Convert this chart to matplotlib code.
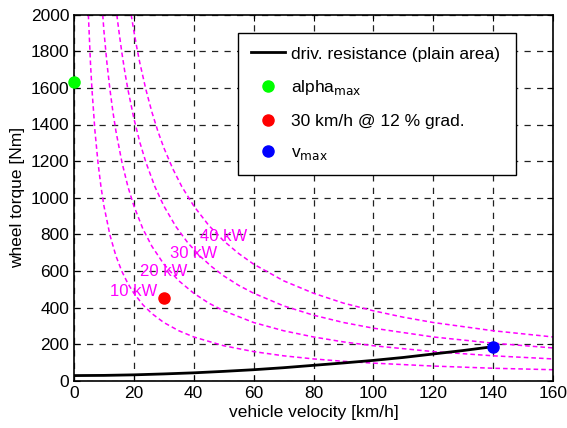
import numpy as np
import matplotlib
matplotlib.use('Agg')
import matplotlib.pyplot as plt

# power hyperbolas (velocity km/h, wheel torque Nm)
v_10kw = [4.8, 5.5, 6, 7, 8, 9, 10, 12, 14, 16, 18, 20, 23, 26, 30, 35, 40, 50, 60, 70, 80, 90, 100, 120, 140, 160]
t_10kw = [2000, 1736, 1592, 1364, 1194, 1061, 955, 796, 682, 597, 531, 478, 415, 367, 318, 273, 239, 191, 159, 136, 119, 106, 96, 80, 68, 60]

v_20kw = [9.6, 10, 11, 12, 13, 14, 16, 18, 20, 23, 26, 30, 35, 40, 45, 50, 60, 70, 80, 90, 100, 120, 140, 160]
t_20kw = [2000, 1910, 1736, 1592, 1469, 1364, 1194, 1061, 955, 830, 735, 637, 546, 478, 424, 382, 318, 273, 239, 212, 191, 159, 136, 119]

v_30kw = [14.3, 15, 16, 17, 18, 20, 22, 24, 27, 30, 34, 38, 42, 46, 50, 55, 60, 70, 80, 90, 100, 120, 140, 160]
t_30kw = [2000, 1910, 1791, 1685, 1592, 1433, 1302, 1194, 1061, 955, 843, 754, 682, 623, 573, 521, 478, 409, 358, 318, 287, 239, 205, 179]

v_40kw = [19.1, 20, 21, 22, 24, 26, 28, 30, 33, 36, 40, 45, 50, 55, 60, 70, 80, 90, 100, 110, 120, 140, 160]
t_40kw = [2000, 1910, 1819, 1736, 1592, 1469, 1364, 1273, 1158, 1061, 955, 849, 764, 695, 637, 546, 478, 424, 382, 347, 318, 273, 239]

# driving resistance on plain road
v_res = [0, 10, 20, 30, 40, 50, 60, 70, 80, 90, 100, 110, 120, 130, 140]
t_res = [28, 29, 32, 37, 43, 51, 60, 71, 84, 97, 111, 127, 146, 165, 186]

# labels for the power curves
kw_labels = ['10 kW', '20 kW', '30 kW', '40 kW']
kw_label_v = [12, 22, 32, 42]
kw_label_t = [490, 595, 695, 790]

# operating points
alpha_max = (0, 1630)
grad_point = (30, 453)
vmax_point = (140, 186)

magenta = '#ff00ff'
fs = 12.5

fig = plt.figure(figsize=(5.67, 4.28), dpi=100)
ax = fig.add_axes([74 / 567, 1 - 380.7 / 428, (553 - 74) / 567, (380.7 - 14.7) / 428])

for v, t in [(v_10kw, t_10kw), (v_20kw, t_20kw), (v_30kw, t_30kw), (v_40kw, t_40kw)]:
    ax.plot(v, t, color=magenta, lw=1.1, dashes=(3, 2))

ax.plot(v_res, t_res, color='black', lw=2, label='driv. resistance (plain area)', zorder=3)
ax.plot(*alpha_max, 'o', color='#00ff00', ms=8, label='alpha$_{\\mathrm{max}}$', clip_on=False, zorder=4)
ax.plot(*grad_point, 'o', color='#ff0000', ms=8, label='30 km/h @ 12 % grad.', zorder=4)
ax.plot(*vmax_point, 'o', color='#0000ff', ms=8, label='v$_{\\mathrm{max}}$', zorder=4)

for lab, x, y in zip(kw_labels, kw_label_v, kw_label_t):
    ax.text(x, y, lab, color=magenta, fontsize=12, ha='left', va='center',
            family='Liberation Sans')

ax.set_xlim(0, 160)
ax.set_ylim(0, 2000)
ax.set_xticks(np.arange(0, 161, 20))
ax.set_yticks(np.arange(0, 2001, 200))
ax.grid(True, color='#222222', linestyle=(0, (5, 5)), lw=0.9)
ax.set_axisbelow(True)
ax.tick_params(direction='in', top=True, right=True, length=4, labelsize=fs)
for lbl in ax.get_xticklabels() + ax.get_yticklabels():
    lbl.set_family('Liberation Sans')
for s in ax.spines.values():
    s.set_linewidth(1.2)

ax.set_xlabel('vehicle velocity [km/h]', fontsize=fs, family='Liberation Sans', labelpad=3)
ax.set_ylabel('wheel torque [Nm]', fontsize=fs, family='Liberation Sans', labelpad=4)

leg = ax.legend(loc='upper left', bbox_to_anchor=(0.343, 0.949, 0.58, 0.0), mode='expand',
                fancybox=False, edgecolor='black', framealpha=1, borderaxespad=0,
                borderpad=0.75, labelspacing=0.95, handlelength=1.95, handletextpad=0.35,
                prop={'family': 'Liberation Sans', 'size': fs})
leg.get_frame().set_linewidth(1.0)

fig.savefig('out.png', dpi=100)
